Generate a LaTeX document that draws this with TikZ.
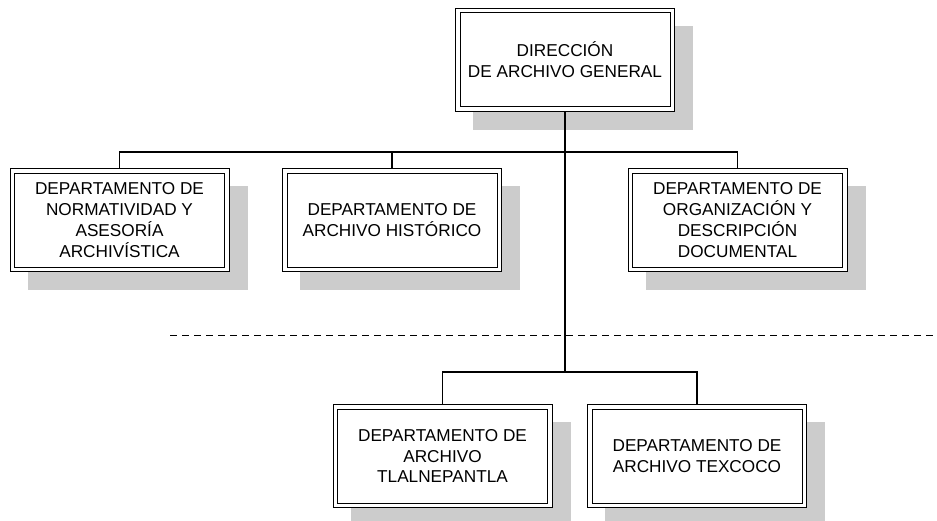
\documentclass[tikz,border=0pt]{standalone}
\usepackage{fontspec}
\setmainfont{Liberation Sans}
\usepackage{tikz}
\usetikzlibrary{positioning}
\pgfdeclarelayer{bg}
\pgfsetlayers{bg,main}

\begin{document}
\begin{tikzpicture}[x=1pt,y=-1pt]
%[one unit = one pixel of the chart, y grows downwards]
\tikzstyle{every node}=[font=\fontsize{17.2}{20.8}\selectfont]
\tikzstyle{unit}=[rectangle, align=center, fill=white, draw=black,
line width=1pt, double=white, double distance=3.5pt,
minimum width=214.5pt, minimum height=98.5pt, inner sep=0pt, outer sep=2.75pt]
\tikzstyle{boxshadow}=[fill=black!20]
\tikzstyle{link}=[line width=1.1pt]

\useasboundingbox (0,0) rectangle (937,520);

\node[unit] at (565, 59.5) (dir) {
DIRECCIÓN\\
DE ARCHIVO GENERAL
};

\node[unit] at (119.5, 220) (norm) {
DEPARTAMENTO DE\\
NORMATIVIDAD Y\\
ASESORÍA\\
ARCHIVÍSTICA
};

\node[unit] at (392, 220) (hist) {
DEPARTAMENTO DE\\
ARCHIVO HISTÓRICO
};

\node[unit] at (737.5, 220) (org) {
DEPARTAMENTO DE\\
ORGANIZACIÓN Y\\
DESCRIPCIÓN\\
DOCUMENTAL
};

\node[unit] at (442.5, 456) (tlal) {
DEPARTAMENTO DE\\
ARCHIVO\\
TLALNEPANTLA
};

\node[unit] at (697, 456) (tex) {
DEPARTAMENTO DE\\
ARCHIVO TEXCOCO
};

% shadows behind the boxes
\begin{pgfonlayer}{bg}
\foreach \n in {dir, norm, hist, org, tlal, tex}
  \fill[boxshadow] ([shift={(18,18)}]\n.north west) rectangle ([shift={(18,18)}]\n.south east);
\end{pgfonlayer}

\coordinate (bus1) at (565, 152);
\coordinate (bus2) at (565, 372);
\coordinate (cutL) at (170, 335);
\coordinate (cutR) at (937, 335);

\draw[link] (dir.south) -- (bus2);
\draw[link] (norm.north) |- (bus1) -| (org.north);
\draw[link] (hist.north) -- (hist.north |- bus1);
\draw[link] (tlal.north) |- (bus2) -| (tex.north);

\draw[line width=1pt, dash pattern=on 7pt off 5pt] (cutL) -- (cutR);

\end{tikzpicture}
\end{document}
